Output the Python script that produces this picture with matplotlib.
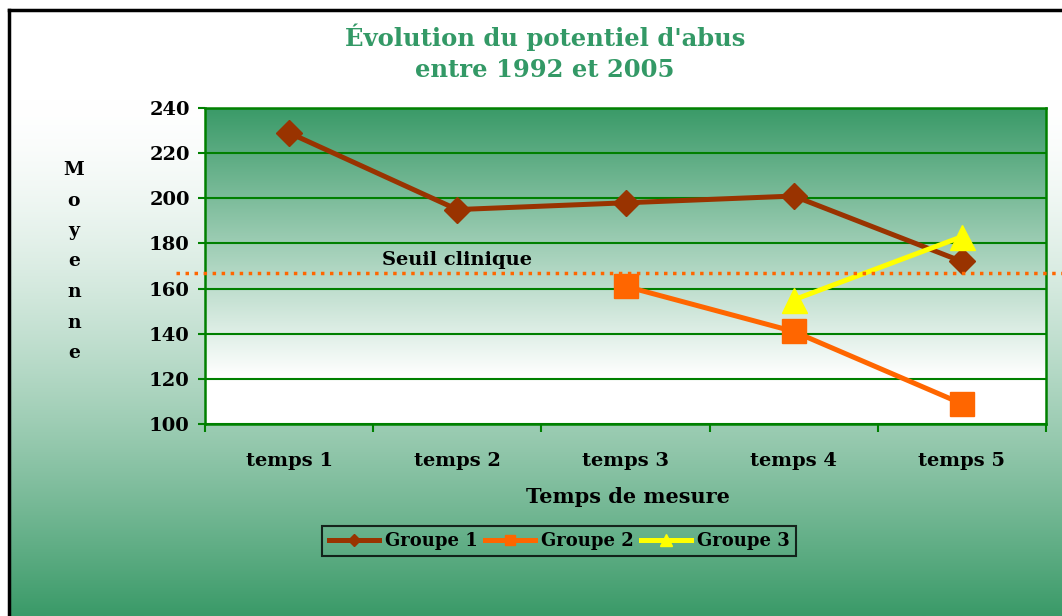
import numpy as np
import matplotlib
matplotlib.use('Agg')
import matplotlib.pyplot as plt
from matplotlib.lines import Line2D
from matplotlib.colors import to_rgb

categories = ['temps 1', 'temps 2', 'temps 3', 'temps 4', 'temps 5']
groupe1 = [229, 195, 198, 201, 172]
groupe2 = [None, None, 161, 141, 109]
groupe3 = [None, None, None, 155, 183]
seuil = 167
yticks = [100, 120, 140, 160, 180, 200, 220, 240]

W, H = 1062, 616
green = np.array(to_rgb('#3a9a68'))
white = np.array([1.0, 1.0, 1.0])
serif = 'DejaVu Serif'

fig = plt.figure(figsize=(W/100, H/100), dpi=100)
fig.patch.set_facecolor('white')

# figure background: white at top -> green at bottom
bg = fig.add_axes([9/W, 0, 1-9/W, 1-10/H], zorder=-10)
t = np.linspace(0, 1, 300)
t = np.clip((t-0.15)/0.85, 0, 1)**1.5
grad = white[None, :]*(1-t[:, None]) + green[None, :]*t[:, None]
bg.imshow(grad[:, None, :], aspect='auto', extent=[0, 1, 1, 0])
bg.set_xlim(0, 1); bg.set_ylim(1, 0)
bg.axis('off')

# black border left and top
fig.add_artist(Line2D([9/W, 9/W], [0, 1-10/H], color='black', lw=2.5))
fig.add_artist(Line2D([9/W, 1], [1-10/H, 1-10/H], color='black', lw=2.5))

ax = fig.add_axes([205/W, (H-424)/H, 841/W, 316/H])
x = np.arange(1, len(categories)+1)
ax.set_xlim(0.5, len(categories)+0.5)
ax.set_ylim(100, 240)

# plot area gradient: green at top -> white near bottom
s = np.clip(np.linspace(0, 1, 300)/0.85, 0, 1)
pgrad = green[None, :]*(1-s[:, None]) + white[None, :]*s[:, None]
ax.imshow(pgrad[:, None, :], aspect='auto', extent=[0.5, 5.5, 100, 240], zorder=0)

for v in yticks:
    ax.axhline(v, color='#008000', lw=1.5, zorder=1)
for sp in ax.spines.values():
    sp.set_color('#008000')
    sp.set_linewidth(1.8)

ax.set_yticks(yticks)
ax.set_yticklabels([str(v) for v in yticks], fontsize=14, fontweight='bold', family=serif)
ax.set_xticks(np.arange(0.5, len(categories)+1, 1))
ax.set_xticklabels([])
ax.set_xticks(x, minor=True)
ax.set_xticklabels(categories, minor=True, fontsize=14, fontweight='bold', family=serif)
ax.tick_params(axis='x', which='major', direction='out', length=6, color='#008000', width=1.5)
ax.tick_params(axis='x', which='minor', length=0, pad=20)
ax.tick_params(axis='y', direction='out', length=5, color='#008000', width=1.5, pad=6)

def arr(v):
    return np.array([np.nan if a is None else a for a in v], dtype=float)

ax.plot(x, arr(groupe1), color='#993300', lw=3.6, marker='D', markersize=13, label='Groupe 1', zorder=3)
ax.plot(x, arr(groupe2), color='#FF6600', lw=3.6, marker='s', markersize=17, label='Groupe 2', zorder=3)
ax.plot(x, arr(groupe3), color='#FFFF00', lw=3.6, marker='^', markersize=18, label='Groupe 3', zorder=4)

# threshold line
ax.axhline(seuil, xmin=(176-205)/841, xmax=(W-205)/841, color='#FF6600', lw=2.5,
           linestyle=(0, (1, 1.6)), clip_on=False, zorder=5)
ax.text((382-205)/841, seuil+1.5, 'Seuil clinique', transform=ax.get_yaxis_transform(),
        fontsize=14, fontweight='bold', family=serif, va='bottom', ha='left', zorder=6)

fig.text(545/W, 1-37/H, "Évolution du potentiel d'abus", color='#339966', fontsize=17.5,
         fontweight='bold', family=serif, ha='center', va='center')
fig.text(545/W, 1-70/H, 'entre 1992 et 2005', color='#339966', fontsize=17.5,
         fontweight='bold', family=serif, ha='center', va='center')
fig.text(628/W, 1-497/H, 'Temps de mesure', fontsize=15, fontweight='bold', family=serif,
         ha='center', va='center')
for i, ch in enumerate('Moyenne'):
    fig.text(74/W, 1-(170+i*30.5)/H, ch, fontsize=13.5, fontweight='bold', family=serif,
             ha='center', va='center')

leg = fig.legend(loc='center', bbox_to_anchor=(559/W, 1-541/H), ncol=3, frameon=True,
                 fancybox=False, markerscale=0.45, handlelength=2.8, handletextpad=0.3,
                 columnspacing=0.4, borderpad=0.35,
                 prop={'family': serif, 'weight': 'bold', 'size': 13})
leg.get_frame().set_edgecolor('black')
leg.get_frame().set_facecolor('none')
leg.get_frame().set_linewidth(1.5)

fig.savefig('out.png', dpi=100)
